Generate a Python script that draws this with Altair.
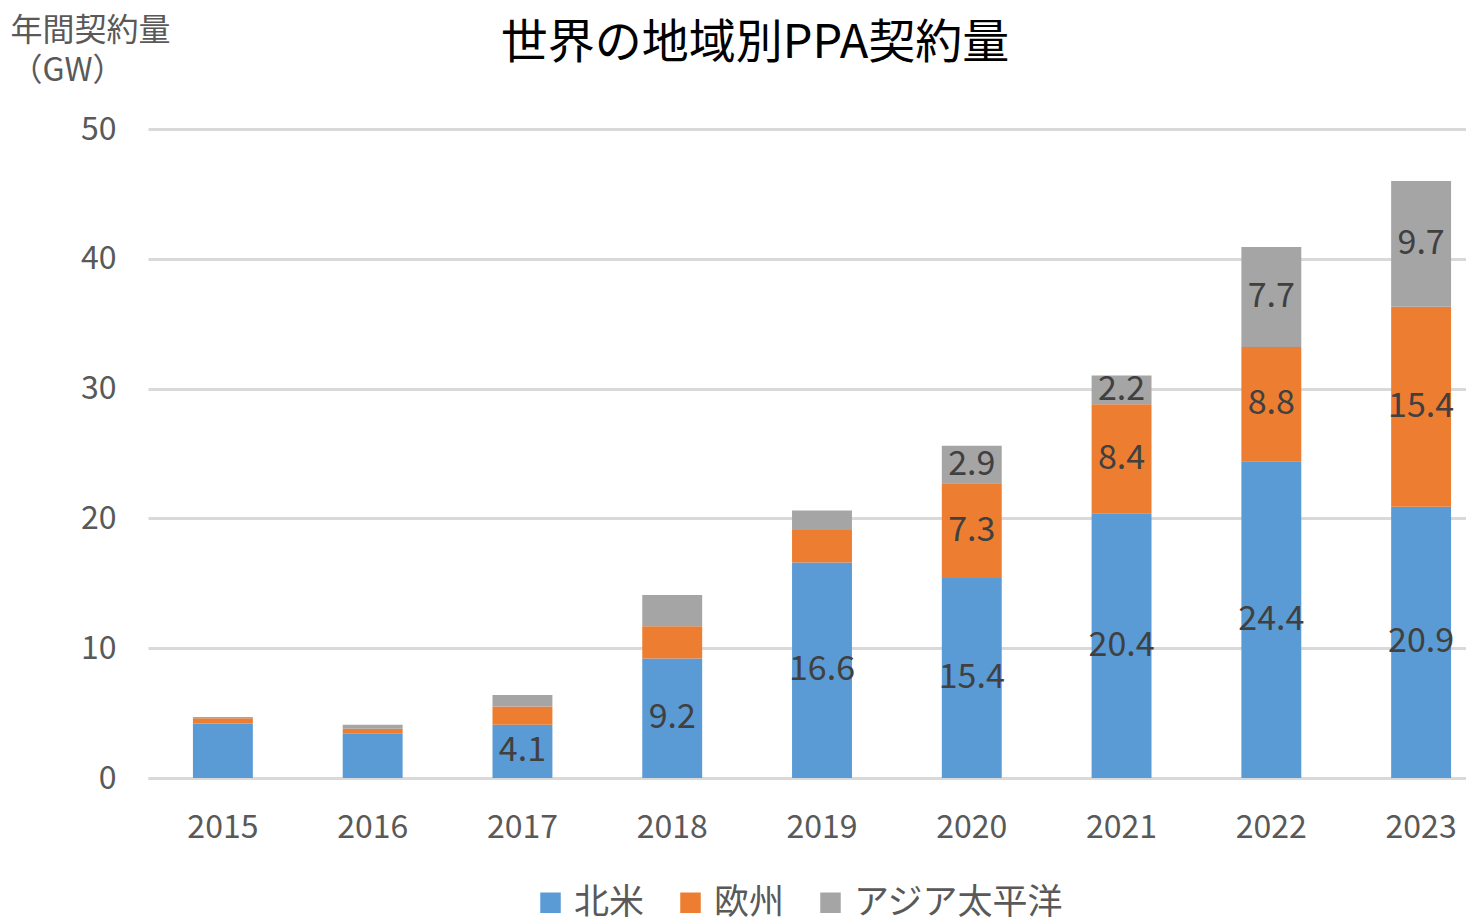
import altair as alt
import pandas as pd

years = ["2015", "2016", "2017", "2018", "2019", "2020", "2021", "2022", "2023"]
series = ["北米", "欧州", "アジア太平洋"]
north_america = [4.2, 3.4, 4.1, 9.2, 16.6, 15.4, 20.4, 24.4, 20.9]
europe = [0.4, 0.4, 1.4, 2.5, 2.5, 7.3, 8.4, 8.8, 15.4]
asia_pacific = [0.1, 0.3, 0.9, 2.4, 1.5, 2.9, 2.2, 7.7, 9.7]
# which years carry a data label, per series
na_labeled = ["2017", "2018", "2019", "2020", "2021", "2022", "2023"]
eu_labeled = ["2020", "2021", "2022", "2023"]
ap_labeled = ["2020", "2021", "2022", "2023"]
colors = ["#5B9BD5", "#ED7D31", "#A5A5A5"]

rows = []
for i, y in enumerate(years):
    base = 0.0
    for k, (name, vals, lab) in enumerate(zip(series,
                                             [north_america, europe, asia_pacific],
                                             [na_labeled, eu_labeled, ap_labeled])):
        v = vals[i]
        rows.append({"year": y, "series": name, "order": k, "value": v,
                     "start": base, "end": base + v, "mid": base + v / 2,
                     "label": f"{v:.1f}" if y in lab else ""})
        base += v
df = pd.DataFrame(rows)

FONT = "Noto Sans CJK JP"
PLOT_W = 1318
PLOT_H = 649

x = alt.X("year:N", sort=years, title=None,
          scale=alt.Scale(range=[0, 1348], paddingInner=0.6, paddingOuter=0.3),
          axis=alt.Axis(labelAngle=0, labelFontSize=32, labelColor="#595959", labelFont=FONT,
                        labelPadding=34, ticks=False, domainColor="#D9D9D9", domainWidth=3))

bars = alt.Chart(df).mark_bar().encode(
    x=x,
    y=alt.Y("start:Q", scale=alt.Scale(domain=[0, 50]),
            title=["年間契約量", "（GW）"],
            axis=alt.Axis(values=[0, 10, 20, 30, 40, 50], labelFontSize=32, labelColor="#595959",
                          labelFont=FONT, labelPadding=32, ticks=False, domain=False,
                          gridColor="#D9D9D9", gridWidth=3,
                          titleAngle=0, titleAlign="left", titleBaseline="top",
                          titleX=-138, titleY=-114, titleFontSize=32, titleFontWeight="normal",
                          titleColor="#595959", titleFont=FONT, titleLineHeight=40)),
    y2="end:Q",
    color=alt.Color("series:N", scale=alt.Scale(domain=series, range=colors),
                    legend=alt.Legend(title=None, orient="none", legendX=385, legendY=756,
                                      direction="horizontal", symbolType="square",
                                      symbolSize=420, symbolStrokeWidth=0,
                                      labelFontSize=35, labelColor="#595959", labelFont=FONT,
                                      labelOffset=6, labelLimit=400, columnPadding=28,
                                      symbolOpacity=1)),
    order=alt.Order("order:Q"),
)

labels = alt.Chart(df).transform_filter(alt.datum.label != "").mark_text(
    fontSize=34, color="#404040", font=FONT, baseline="middle"
).encode(
    x=alt.X("year:N", sort=years),
    y=alt.Y("mid:Q"),
    text="label:N",
)

chart = alt.layer(bars, labels).properties(
    width=PLOT_W, height=PLOT_H,
    padding={"left": 140, "top": 121, "right": 0, "bottom": 145},
    autosize=alt.AutoSizeParams(type="none"),
    title=alt.TitleParams("世界の地域別PPA契約量", fontSize=47, font=FONT, fontWeight="normal",
                          color="#000000", anchor="middle", frame="group", dx=-52, offset=-54),
).configure_view(stroke=None)

chart.save("out.html", embed_options={"renderer": "svg", "actions": False})
